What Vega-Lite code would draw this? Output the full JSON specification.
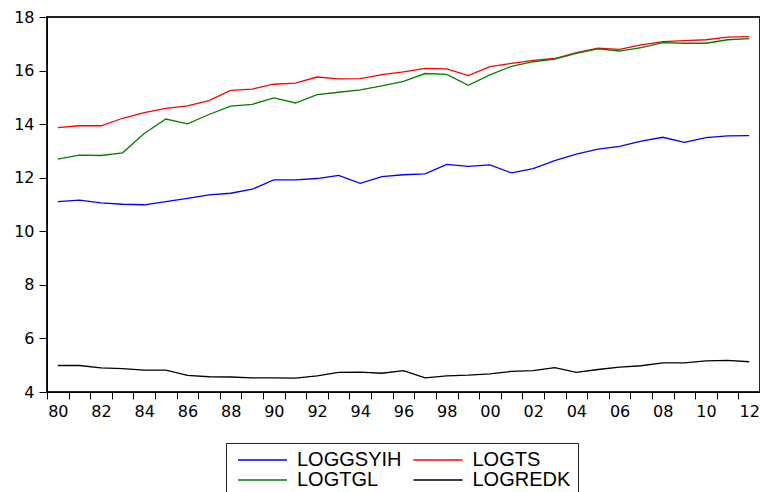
{
  "$schema": "https://vega.github.io/schema/vega-lite/v6.json",
  "width": 713,
  "height": 375,
  "autosize": {"type": "none"},
  "padding": {"left": 47, "top": 17, "right": 0, "bottom": 100},
  "background": "white",
  "config": {
    "view": {"stroke": "#222", "strokeWidth": 2},
    "axis": {"labelFont": "DejaVu Sans", "labelFontSize": 16, "labelColor": "black", "domainColor": "black", "tickColor": "black", "grid": false}
  },
  "data": {"values": [
    {"year":1980,"series":"LOGGSYIH","value":11.11},{"year":1981,"series":"LOGGSYIH","value":11.16},{"year":1982,"series":"LOGGSYIH","value":11.06},{"year":1983,"series":"LOGGSYIH","value":11.01},{"year":1984,"series":"LOGGSYIH","value":10.99},{"year":1985,"series":"LOGGSYIH","value":11.11},{"year":1986,"series":"LOGGSYIH","value":11.23},{"year":1987,"series":"LOGGSYIH","value":11.36},{"year":1988,"series":"LOGGSYIH","value":11.42},{"year":1989,"series":"LOGGSYIH","value":11.57},{"year":1990,"series":"LOGGSYIH","value":11.92},{"year":1991,"series":"LOGGSYIH","value":11.92},{"year":1992,"series":"LOGGSYIH","value":11.97},{"year":1993,"series":"LOGGSYIH","value":12.09},{"year":1994,"series":"LOGGSYIH","value":11.79},{"year":1995,"series":"LOGGSYIH","value":12.04},{"year":1996,"series":"LOGGSYIH","value":12.11},{"year":1997,"series":"LOGGSYIH","value":12.14},{"year":1998,"series":"LOGGSYIH","value":12.5},{"year":1999,"series":"LOGGSYIH","value":12.42},{"year":2000,"series":"LOGGSYIH","value":12.48},{"year":2001,"series":"LOGGSYIH","value":12.18},{"year":2002,"series":"LOGGSYIH","value":12.34},{"year":2003,"series":"LOGGSYIH","value":12.64},{"year":2004,"series":"LOGGSYIH","value":12.88},{"year":2005,"series":"LOGGSYIH","value":13.07},{"year":2006,"series":"LOGGSYIH","value":13.17},{"year":2007,"series":"LOGGSYIH","value":13.37},{"year":2008,"series":"LOGGSYIH","value":13.51},{"year":2009,"series":"LOGGSYIH","value":13.32},{"year":2010,"series":"LOGGSYIH","value":13.5},{"year":2011,"series":"LOGGSYIH","value":13.56},{"year":2012,"series":"LOGGSYIH","value":13.57},
    {"year":1980,"series":"LOGTS","value":13.87},{"year":1981,"series":"LOGTS","value":13.94},{"year":1982,"series":"LOGTS","value":13.94},{"year":1983,"series":"LOGTS","value":14.22},{"year":1984,"series":"LOGTS","value":14.43},{"year":1985,"series":"LOGTS","value":14.59},{"year":1986,"series":"LOGTS","value":14.68},{"year":1987,"series":"LOGTS","value":14.88},{"year":1988,"series":"LOGTS","value":15.26},{"year":1989,"series":"LOGTS","value":15.31},{"year":1990,"series":"LOGTS","value":15.49},{"year":1991,"series":"LOGTS","value":15.53},{"year":1992,"series":"LOGTS","value":15.76},{"year":1993,"series":"LOGTS","value":15.69},{"year":1994,"series":"LOGTS","value":15.7},{"year":1995,"series":"LOGTS","value":15.85},{"year":1996,"series":"LOGTS","value":15.95},{"year":1997,"series":"LOGTS","value":16.08},{"year":1998,"series":"LOGTS","value":16.06},{"year":1999,"series":"LOGTS","value":15.81},{"year":2000,"series":"LOGTS","value":16.15},{"year":2001,"series":"LOGTS","value":16.27},{"year":2002,"series":"LOGTS","value":16.38},{"year":2003,"series":"LOGTS","value":16.45},{"year":2004,"series":"LOGTS","value":16.67},{"year":2005,"series":"LOGTS","value":16.84},{"year":2006,"series":"LOGTS","value":16.79},{"year":2007,"series":"LOGTS","value":16.96},{"year":2008,"series":"LOGTS","value":17.08},{"year":2009,"series":"LOGTS","value":17.12},{"year":2010,"series":"LOGTS","value":17.15},{"year":2011,"series":"LOGTS","value":17.25},{"year":2012,"series":"LOGTS","value":17.27},
    {"year":1980,"series":"LOGTGL","value":12.69},{"year":1981,"series":"LOGTGL","value":12.84},{"year":1982,"series":"LOGTGL","value":12.83},{"year":1983,"series":"LOGTGL","value":12.93},{"year":1984,"series":"LOGTGL","value":13.65},{"year":1985,"series":"LOGTGL","value":14.19},{"year":1986,"series":"LOGTGL","value":14.01},{"year":1987,"series":"LOGTGL","value":14.36},{"year":1988,"series":"LOGTGL","value":14.67},{"year":1989,"series":"LOGTGL","value":14.74},{"year":1990,"series":"LOGTGL","value":14.98},{"year":1991,"series":"LOGTGL","value":14.79},{"year":1992,"series":"LOGTGL","value":15.1},{"year":1993,"series":"LOGTGL","value":15.19},{"year":1994,"series":"LOGTGL","value":15.28},{"year":1995,"series":"LOGTGL","value":15.43},{"year":1996,"series":"LOGTGL","value":15.6},{"year":1997,"series":"LOGTGL","value":15.89},{"year":1998,"series":"LOGTGL","value":15.86},{"year":1999,"series":"LOGTGL","value":15.45},{"year":2000,"series":"LOGTGL","value":15.84},{"year":2001,"series":"LOGTGL","value":16.16},{"year":2002,"series":"LOGTGL","value":16.33},{"year":2003,"series":"LOGTGL","value":16.43},{"year":2004,"series":"LOGTGL","value":16.64},{"year":2005,"series":"LOGTGL","value":16.81},{"year":2006,"series":"LOGTGL","value":16.73},{"year":2007,"series":"LOGTGL","value":16.86},{"year":2008,"series":"LOGTGL","value":17.04},{"year":2009,"series":"LOGTGL","value":17.02},{"year":2010,"series":"LOGTGL","value":17.02},{"year":2011,"series":"LOGTGL","value":17.15},{"year":2012,"series":"LOGTGL","value":17.19},
    {"year":1980,"series":"LOGREDK","value":4.99},{"year":1981,"series":"LOGREDK","value":4.99},{"year":1982,"series":"LOGREDK","value":4.9},{"year":1983,"series":"LOGREDK","value":4.87},{"year":1984,"series":"LOGREDK","value":4.82},{"year":1985,"series":"LOGREDK","value":4.82},{"year":1986,"series":"LOGREDK","value":4.62},{"year":1987,"series":"LOGREDK","value":4.57},{"year":1988,"series":"LOGREDK","value":4.56},{"year":1989,"series":"LOGREDK","value":4.53},{"year":1990,"series":"LOGREDK","value":4.53},{"year":1991,"series":"LOGREDK","value":4.52},{"year":1992,"series":"LOGREDK","value":4.6},{"year":1993,"series":"LOGREDK","value":4.73},{"year":1994,"series":"LOGREDK","value":4.74},{"year":1995,"series":"LOGREDK","value":4.7},{"year":1996,"series":"LOGREDK","value":4.8},{"year":1997,"series":"LOGREDK","value":4.53},{"year":1998,"series":"LOGREDK","value":4.6},{"year":1999,"series":"LOGREDK","value":4.63},{"year":2000,"series":"LOGREDK","value":4.68},{"year":2001,"series":"LOGREDK","value":4.77},{"year":2002,"series":"LOGREDK","value":4.8},{"year":2003,"series":"LOGREDK","value":4.91},{"year":2004,"series":"LOGREDK","value":4.73},{"year":2005,"series":"LOGREDK","value":4.84},{"year":2006,"series":"LOGREDK","value":4.93},{"year":2007,"series":"LOGREDK","value":4.98},{"year":2008,"series":"LOGREDK","value":5.09},{"year":2009,"series":"LOGREDK","value":5.09},{"year":2010,"series":"LOGREDK","value":5.16},{"year":2011,"series":"LOGREDK","value":5.18},{"year":2012,"series":"LOGREDK","value":5.13}
  ]},
  "mark": {"type": "line", "strokeWidth": 1.3},
  "encoding": {
    "x": {
      "field": "year", "type": "quantitative",
      "scale": {"domain": [1979.5, 2012.5], "nice": false, "zero": false},
      "axis": {
        "title": null,
        "values": [1979.5,1980.5,1981.5,1982.5,1983.5,1984.5,1985.5,1986.5,1987.5,1988.5,1989.5,1990.5,1991.5,1992.5,1993.5,1994.5,1995.5,1996.5,1997.5,1998.5,1999.5,2000.5,2001.5,2002.5,2003.5,2004.5,2005.5,2006.5,2007.5,2008.5,2009.5,2010.5,2011.5],
        "labelExpr": "(datum.value + 0.5) % 2 == 0 ? slice(toString(datum.value + 0.5), 2) : ''",
        "labelOffset": 10.8,
        "labelFlush": false,
        "labelOverlap": false,
        "tickSize": 7,
        "labelPadding": 4
      }
    },
    "y": {
      "field": "value", "type": "quantitative",
      "scale": {"domain": [4, 18], "nice": false, "zero": false},
      "axis": {"title": null, "values": [4,6,8,10,12,14,16,18], "tickSize": 8, "labelPadding": 5, "labelFlush": false}
    },
    "color": {
      "field": "series", "type": "nominal",
      "scale": {"domain": ["LOGGSYIH", "LOGTS", "LOGTGL", "LOGREDK"], "range": ["#0000ff", "#ff0000", "#008000", "#000000"]},
      "legend": {
        "title": null,
        "orient": "none",
        "legendX": 179,
        "legendY": 426,
        "direction": "horizontal",
        "columns": 2,
        "symbolType": "M-1,0H8.8",
        "symbolSize": 100,
        "symbolStrokeWidth": 1.3,
        "symbolFillColor": "transparent",
        "labelFont": "Liberation Sans",
        "labelFontSize": 20,
        "labelColor": "black",
        "labelOffset": 44,
        "columnPadding": 6.5,
        "rowPadding": -1,
        "padding": 7,
        "strokeColor": "#222",
        "fillColor": "white"
      }
    }
  }
}
